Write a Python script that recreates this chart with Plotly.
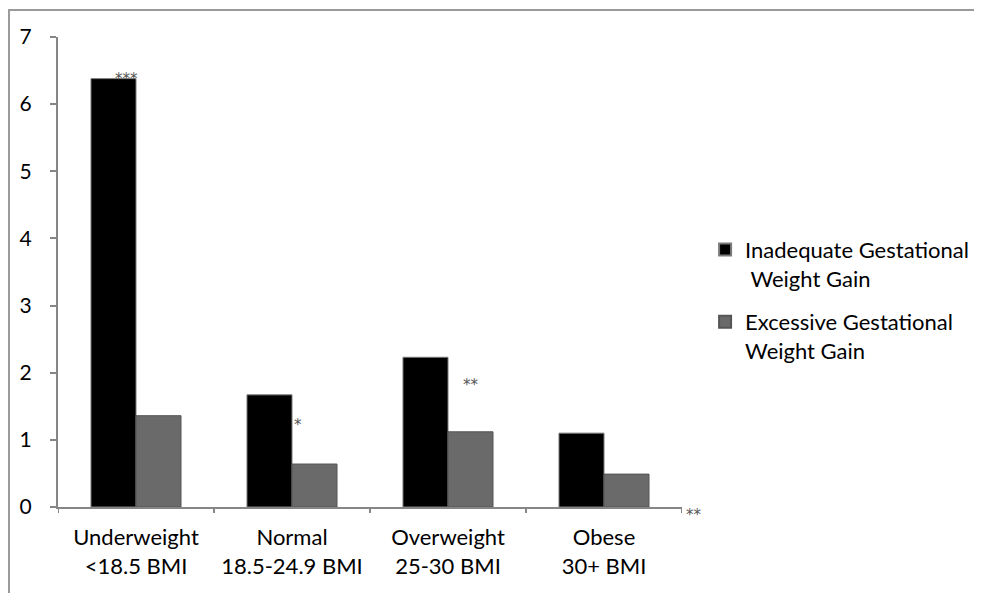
import plotly.graph_objects as go

categories = ["Underweight<br><18.5 BMI", "Normal<br>18.5-24.9 BMI", "Overweight<br>25-30 BMI", "Obese<br>30+ BMI"]
inadequate = [6.38, 1.67, 2.23, 1.10]
excessive = [1.36, 0.64, 1.12, 0.49]
series_names = ["Inadequate Gestational<br> Weight Gain", "Excessive Gestational<br>Weight Gain"]
y_ticks = [0, 1, 2, 3, 4, 5, 6, 7]
sig_labels = ["***", "*", "**", "**"]
sig_x = [-0.06, 1.04, 2.15, 3.58]
sig_y = [6.43, 1.28, 1.87, -0.06]

FONT = "Lato, Open Sans, sans-serif"
idx = list(range(len(categories)))
X_RANGE = [-0.5, 3.5]
Y_RANGE = [0, 7]

fig = go.Figure()
fig.add_trace(go.Bar(x=idx, y=inadequate, name=series_names[0], legendgroup="a",
                     marker=dict(color="#000000", line=dict(color="#7a7a7a", width=1))))
fig.add_trace(go.Bar(x=idx, y=excessive, name=series_names[1], legendgroup="b",
                     marker=dict(color="#6a6a6a", line=dict(color="#555555", width=1))))

# significance markers (paper coords so ones outside the axis range stay visible)
for lab, xx, yy in zip(sig_labels, sig_x, sig_y):
    px = (xx - X_RANGE[0]) / (X_RANGE[1] - X_RANGE[0])
    py = (yy - Y_RANGE[0]) / (Y_RANGE[1] - Y_RANGE[0])
    fig.add_annotation(x=px, y=py, xref="paper", yref="paper", text=lab, showarrow=False,
                       xanchor="center", yanchor="middle", yshift=-4,
                       font=dict(family="DejaVu Sans", size=15, color="#555555"))

# outer chart border (partially cropped)
fig.add_shape(type="rect", xref="paper", yref="paper", x0=-0.0785, x1=1.6, y0=-0.3, y1=1.0574,
              line=dict(color="#9a9a9a", width=2), layer="below")

fig.update_layout(
    width=982, height=593,
    margin=dict(l=50, r=308, t=29, b=94, autoexpand=False),
    paper_bgcolor="white", plot_bgcolor="white",
    barmode="group", bargap=0.423, bargroupgap=0,
    font=dict(family=FONT, size=22, color="#000000"),
    showlegend=True,
    legend=dict(x=1.037, y=0.44, xanchor="left", yanchor="middle",
                font=dict(family=FONT, size=22, color="#000000"),
                itemsizing="constant", tracegroupgap=12, traceorder="grouped",
                valign="top"),
    xaxis=dict(tickmode="array", tickvals=idx, ticktext=categories,
               range=X_RANGE, showgrid=False, zeroline=False,
               showline=True, linecolor="#868686", linewidth=2,
               ticks="", tickfont=dict(size=22), ticklabelstandoff=10, automargin=False),
    yaxis=dict(range=Y_RANGE, tickvals=y_ticks, showgrid=False, zeroline=False,
               showline=True, linecolor="#868686", linewidth=2,
               ticks="outside", ticklen=6, tickcolor="#868686", tickwidth=2,
               tickfont=dict(size=21), ticklabelstandoff=14, automargin=False),
)

# category boundary ticks on x axis
for b in [-0.5, 0.5, 1.5, 2.5, 3.5]:
    fig.add_shape(type="line", xref="x", yref="paper", x0=b, x1=b, y0=0, y1=-0.013,
                  line=dict(color="#868686", width=2))

fig.write_html("out.html")
